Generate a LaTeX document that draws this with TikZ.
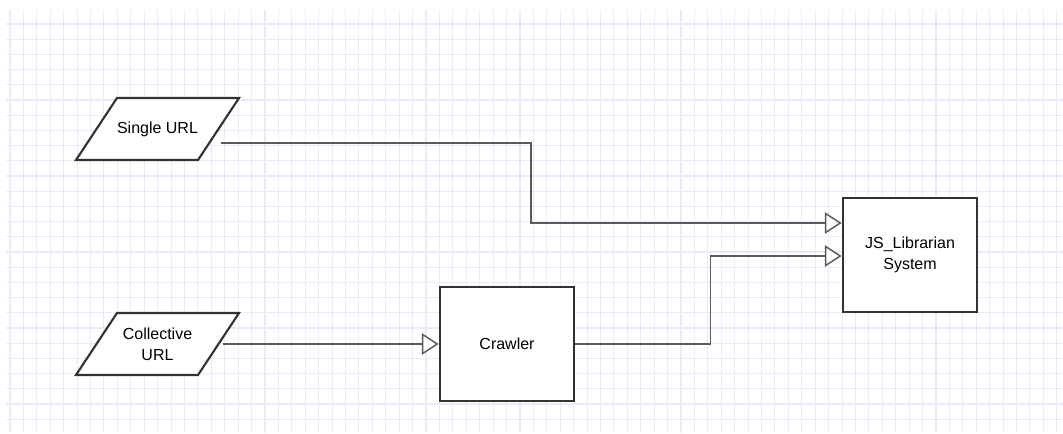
\documentclass[tikz,border=0pt]{standalone}
\usepackage{fontspec}
\setmainfont{Liberation Sans}
\usetikzlibrary{arrows.meta,calc}

\definecolor{boxgray}{RGB}{51,51,51}
\definecolor{conngray}{RGB}{90,90,90}
\definecolor{gridcol}{RGB}{234,234,252}

\tikzset{every picture/.style={line width=0.75pt}}
\tikzset{
  gridline/.style={draw=gridcol, line width=0.8pt},
  iobox/.style={draw=boxgray, fill=white, line width=1.6pt},
  io/.style={rectangle, minimum width=91.5pt, minimum height=46.5pt, inner sep=0pt,
    align=center, font=\fontsize{12}{16}\selectfont},
  proc/.style={rectangle, draw=boxgray, fill=white, line width=1.6pt,
    minimum width=101pt, minimum height=86pt, inner sep=0pt, align=center,
    font=\fontsize{12}{16}\selectfont},
  conn/.style={draw=conngray, line width=1.1pt,
    -{Triangle[length=12.5pt, width=16pt, fill=white]}},
}

\begin{document}
\begin{tikzpicture}[x=0.75pt,y=0.75pt,yscale=-1,xscale=1]
  \useasboundingbox (0,0) rectangle (1063,433);

  %Grid
  \foreach \i in {0,...,78} \draw [gridline] ({10+13.42*\i},10) -- ({10+13.42*\i},433);
  \foreach \j in {0,...,26} \draw [gridline] (6,{24+15.2*\j}) -- (1063,{24+15.2*\j});

  %Shape: Parallelogram
  \draw [iobox] (76,160) -- (198,160) -- (239,98) -- (117,98) -- cycle;
  %Shape: Parallelogram
  \draw [iobox] (76,375) -- (198,375) -- (239,313) -- (117,313) -- cycle;

  % Text Node
  \node [io] (single) at (157.5,129) {Single URL};
  % Text Node
  \node [io] (collective) at (157.5,344) {Collective\\URL};
  %Shape: Rectangle
  \node [proc] (crawler) at (507,344) {Crawler};
  %Shape: Rectangle
  \node [proc] (js) at (910,255) {JS\_Librarian\\System};

  \coordinate (js in1) at ($(js.west)+(0,-32)$);
  \coordinate (js in2) at ($(js.west)+(0,1)$);

  %Straight Lines
  \draw [conn] ($(single.east)+(1.5,14)$) -- ++(310.5,0) |- (js in1);
  %Straight Lines
  \draw [conn] ($(collective.east)+(3.5,0)$) -- (crawler.west);
  %Straight Lines
  \draw [conn] (crawler.east) -- ++(135,0) |- (js in2);
\end{tikzpicture}
\end{document}
